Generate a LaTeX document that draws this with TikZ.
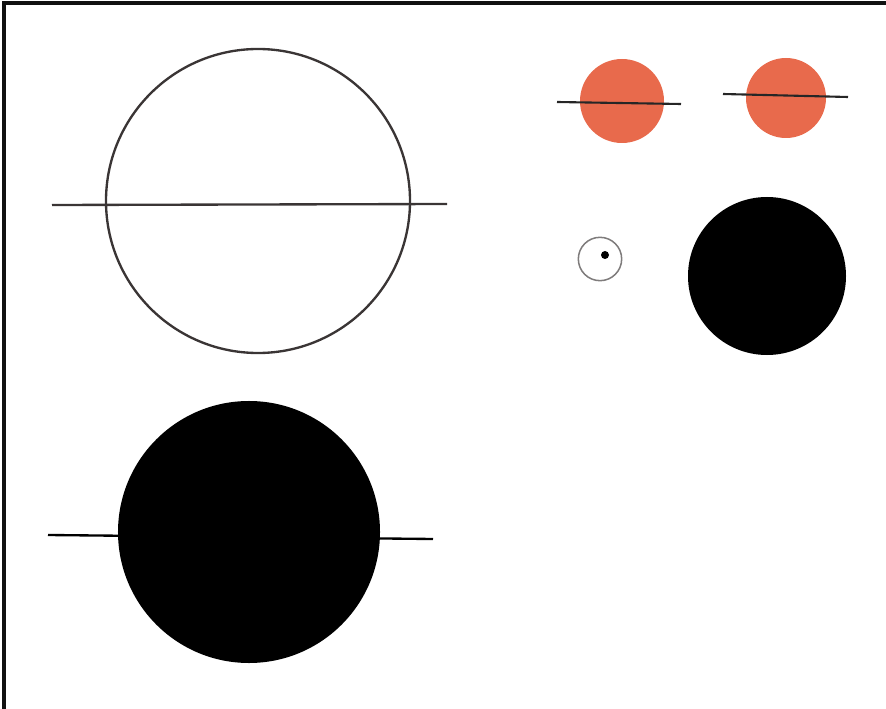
\documentclass[tikz,border=0pt]{standalone}
\usepackage{tikz}
\usepackage{xcolor}
\usetikzlibrary{positioning}
\definecolor{Ink}{HTML}{3A3535}
\definecolor{Salmon}{HTML}{E86A4C}
\definecolor{Frame}{HTML}{111111}

\begin{document}
\begin{tikzpicture}[
    x=0.03cm, y=-0.03cm,
    ring/.style={circle, draw=Ink, line width=2pt, inner sep=0pt},
    thinring/.style={circle, draw=Ink!65, line width=1.3pt, inner sep=0pt},
    disc/.style={circle, fill=black, inner sep=0pt},
    reddisc/.style={circle, fill=Salmon, inner sep=0pt},
    axis/.style={draw=Ink, line width=2pt},
    frameline/.style={draw=Frame, line width=3pt}
]
\useasboundingbox (0,0) rectangle (886,709);

% === Frame ===
\coordinate (ftr) at (886,3);
\coordinate (ftl) at (4,3);
\coordinate (fbl) at (4,709);
\draw[frameline] (ftr) -- (ftl) -- (fbl);

% === Large open ring (top left) ===
\node[ring, minimum size=9.12cm] (bigring) at (258,201) {};
\coordinate (bigL) at (52,205);
\coordinate (bigR) at (447,204);
\draw[axis] (bigL) -- (bigR);

% === Large black disc (bottom left) ===
\node[disc, minimum size=7.86cm] (bigdisc) at (249,532) {};
\coordinate (discL) at (48,535);
\coordinate (discR) at (433,539);
\draw[axis, draw=black] (discL) -- (discR);

% === Red discs (top right) ===
\node[reddisc, minimum size=2.52cm] (redA) at (622,101) {};
\coordinate (redAL) at (557,102);
\coordinate (redAR) at (681,104);
\draw[axis, draw=black!85, line width=1.8pt] (redAL) -- (redAR);

\node[reddisc, minimum size=2.4cm] (redB) at (786,98) {};
\coordinate (redBL) at (723,94);
\coordinate (redBR) at (848,97);
\draw[axis, draw=black!85, line width=1.8pt] (redBL) -- (redBR);

% === Small ring with dot ===
\node[thinring, minimum size=1.3cm] (smallring) at (600,259) {};
\node[disc, minimum size=0.24cm] (dot) at (605,255) {};

% === Black disc (right) ===
\node[disc, minimum size=4.74cm] (rightdisc) at (767,276) {};
\end{tikzpicture}
\end{document}
